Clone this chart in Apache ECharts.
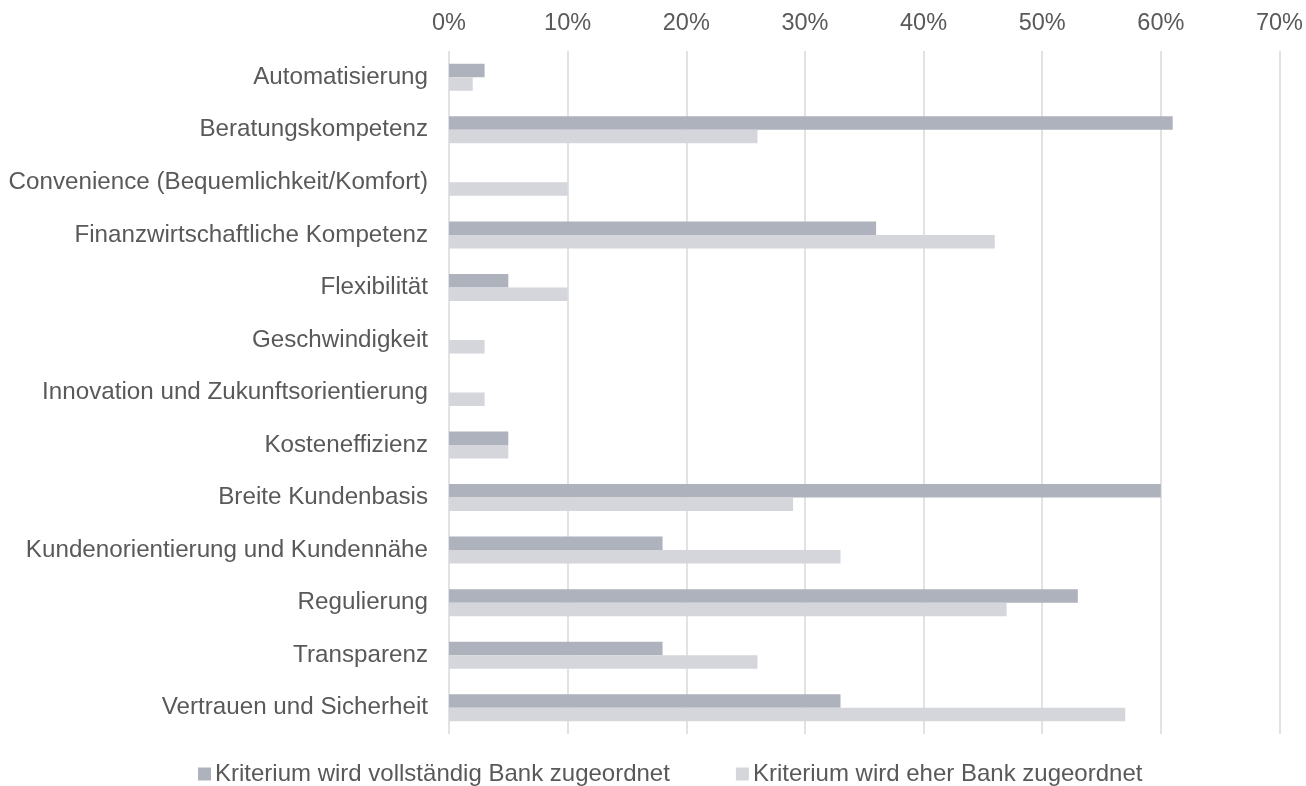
<!DOCTYPE html>
<html>
<head>
<meta charset="utf-8">
<script src="https://cdn.jsdelivr.net/npm/echarts@6/dist/echarts.min.js"></script>
<style>
  html, body { margin: 0; padding: 0; background: #fff; }
  #chart { width: 1306px; height: 786px; }
</style>
</head>
<body>
<div id="chart"></div>
<script>
// Criteria, listed top to bottom
const categories = [
  'Automatisierung',
  'Beratungskompetenz',
  'Convenience (Bequemlichkeit/Komfort)',
  'Finanzwirtschaftliche Kompetenz',
  'Flexibilität',
  'Geschwindigkeit',
  'Innovation und Zukunftsorientierung',
  'Kosteneffizienz',
  'Breite Kundenbasis',
  'Kundenorientierung und Kundennähe',
  'Regulierung',
  'Transparenz',
  'Vertrauen und Sicherheit'
];

// Share of respondents, in percent
const fullyBank = [3, 61, 0, 36, 5, 0, 0, 5, 60, 18, 53, 18, 33];
const ratherBank = [2, 26, 10, 46, 10, 3, 3, 5, 29, 33, 47, 26, 57];

const seriesNames = [
  'Kriterium wird vollständig Bank zugeordnet',
  'Kriterium wird eher Bank zugeordnet'
];

const axisTicks = [0, 10, 20, 30, 40, 50, 60, 70];

const textColor = '#595959';
const fontFamily = 'Liberation Sans, Arial, sans-serif';

const chart = echarts.init(document.getElementById('chart'));
chart.setOption({
  animation: false,
  grid: { left: 449, right: 26, top: 51, bottom: 52, containLabel: false },
  xAxis: {
    type: 'value',
    position: 'top',
    min: axisTicks[0],
    max: axisTicks[axisTicks.length - 1],
    interval: axisTicks[1] - axisTicks[0],
    axisLine: { show: false },
    axisTick: { show: false },
    axisLabel: {
      formatter: '{value}%',
      color: textColor,
      fontFamily: fontFamily,
      fontSize: 23.5,
      margin: 15
    },
    splitLine: { show: true, lineStyle: { color: '#D9D9D9', width: 1.5 } }
  },
  yAxis: {
    type: 'category',
    data: categories,
    inverse: true,
    axisLine: { show: false },
    axisTick: { show: false },
    axisLabel: {
      color: textColor,
      fontFamily: fontFamily,
      fontSize: 24.2,
      margin: 21
    },
    splitLine: { show: false }
  },
  legend: {
    left: 193,
    top: 757,
    itemWidth: 13,
    itemHeight: 13,
    itemGap: 66,
    icon: 'rect',
    textStyle: {
      color: textColor,
      fontFamily: fontFamily,
      fontSize: 24,
      padding: [0, 0, 0, -1]
    },
    data: seriesNames
  },
  series: [
    {
      name: seriesNames[0],
      type: 'bar',
      data: fullyBank,
      barWidth: 13.5,
      barGap: '0%',
      itemStyle: { color: '#AEB2BD' }
    },
    {
      name: seriesNames[1],
      type: 'bar',
      data: ratherBank,
      barWidth: 13.5,
      itemStyle: { color: '#D5D6DB' }
    }
  ]
});
</script>
</body>
</html>
